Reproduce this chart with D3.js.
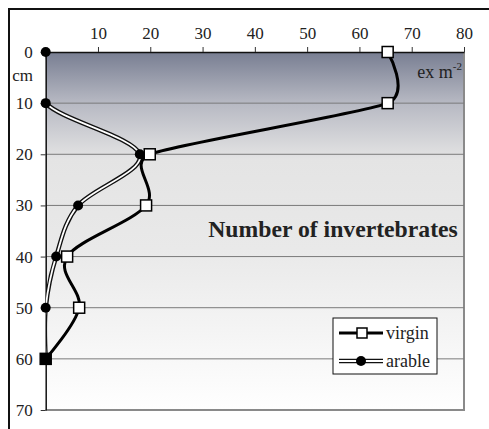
<!DOCTYPE html>
<html>
<head>
<meta charset="utf-8">
<script src="https://cdn.jsdelivr.net/npm/d3@7"></script>
<style>
  body { margin: 0; background: #fff; }
  text { font-family: "Liberation Serif", "Times New Roman", serif; fill: #222; }
</style>
</head>
<body>
<svg id="chart" width="489" height="429"></svg>
<script>
(function() {

  // data
  let depths = [0, 10, 20, 30, 40, 50, 60];
  let virgin = [65.4, 65.4, 19.9, 19.2, 4.1, 6.4, 0];
  let arable = [0, 0, 18, 6.2, 2.0, 0, 0];
  let xTicks = [10, 20, 30, 40, 50, 60, 70, 80];
  let yTicks = [0, 10, 20, 30, 40, 50, 60, 70];
  let gridDepths = [10, 20, 30, 40, 50, 60];

  let left = 45.7, right = 464, top = 52, bottom = 410;

  let svg = d3.select("#chart");

  let xScale = d3.scaleLinear().domain([0, 80]).range([left, right]);
  let yScale = d3.scaleLinear().domain([0, 70]).range([top, bottom]);

  // outer frame (runs off the right and bottom edges)
  svg.append("rect")
     .attr("x", 9).attr("y", 9)
     .attr("width", 500).attr("height", 440)
     .attr("fill", "none")
     .attr("stroke", "#111")
     .attr("stroke-width", 2);

  // plot background gradient
  let defs = svg.append("defs");
  let grad = defs.append("linearGradient")
     .attr("id", "bg")
     .attr("x1", 0).attr("y1", 0).attr("x2", 0).attr("y2", 1);
  grad.append("stop").attr("offset", "0%").attr("stop-color", "#787e92");
  grad.append("stop").attr("offset", "14%").attr("stop-color", "#b6b8c2");
  grad.append("stop").attr("offset", "30%").attr("stop-color", "#e4e4e4");
  grad.append("stop").attr("offset", "55%").attr("stop-color", "#e9e9e9");
  grad.append("stop").attr("offset", "100%").attr("stop-color", "#ffffff");

  defs.append("clipPath").attr("id", "plotclip")
      .append("rect")
      .attr("x", left).attr("y", top - 10)
      .attr("width", right - left + 10).attr("height", bottom - top + 20);

  svg.append("rect")
     .attr("x", left).attr("y", top)
     .attr("width", right - left).attr("height", bottom - top)
     .attr("fill", "url(#bg)");

  // plot border shadow right / bottom
  svg.append("line")
     .attr("x1", right).attr("x2", right)
     .attr("y1", top).attr("y2", bottom + 1)
     .attr("stroke", "#8a8a8a").attr("stroke-width", 2);
  svg.append("line")
     .attr("x1", left).attr("x2", right + 1)
     .attr("y1", bottom).attr("y2", bottom)
     .attr("stroke", "#8a8a8a").attr("stroke-width", 2);

  // gridlines
  svg.selectAll(".grid")
     .data(gridDepths)
     .enter()
     .append("line")
     .attr("class", "grid")
     .attr("x1", left).attr("x2", right)
     .attr("y1", d => yScale(d)).attr("y2", d => yScale(d))
     .attr("stroke", "#7a7a7a")
     .attr("stroke-width", 1);

  // axes
  let xAxis = d3.axisTop(xScale)
                .tickValues(xTicks)
                .tickSize(5)
                .tickSizeOuter(0);
  let gx = svg.append("g")
     .attr("transform", "translate(0," + top + ")")
     .call(xAxis);
  gx.select(".domain").attr("stroke", "#111").attr("stroke-width", 1.5);
  gx.selectAll(".tick line").attr("stroke", "#333");
  gx.selectAll(".tick text")
    .attr("font-size", "17px")
    .attr("fill", "#222")
    .attr("dy", "-0.3em");

  let yAxis = d3.axisLeft(yScale)
                .tickValues(yTicks)
                .tickSize(5)
                .tickSizeOuter(0);
  let gy = svg.append("g")
     .attr("transform", "translate(" + left + ",0)")
     .call(yAxis);
  gy.select(".domain").attr("stroke", "#111").attr("stroke-width", 1.5);
  gy.selectAll(".tick line").attr("stroke", "#333");
  gy.selectAll(".tick text")
    .attr("font-size", "17px")
    .attr("fill", "#222")
    .attr("x", -13);

  svg.append("text")
     .attr("x", 33).attr("y", 81)
     .attr("text-anchor", "end")
     .attr("font-size", "17px")
     .text("cm");

  // unit label
  let unit = svg.append("text")
     .attr("x", 462).attr("y", 78)
     .attr("text-anchor", "end")
     .attr("font-size", "18px");
  unit.append("tspan").text("ex m");
  unit.append("tspan").attr("dy", -8).attr("font-size", "11px").text("-2");

  // title
  svg.append("text")
     .attr("x", 333).attr("y", 237)
     .attr("text-anchor", "middle")
     .attr("font-size", "23.7px")
     .attr("font-weight", "bold")
     .text("Number of invertebrates");

  // spreadsheet-style smoothing: bezier handles of 1/6 the chord,
  // shortened when a neighbouring segment is short
  function dist(a, b) {
    return Math.hypot(b[0] - a[0], b[1] - a[1]);
  }
  function handle(a, b, c) {
    let d02 = dist(a, c);
    if (d02 === 0) return 0;
    return Math.min(1 / 6, Math.min(dist(a, b), dist(b, c)) / (2 * d02));
  }
  function smooth(data) {
    let pts = data.map(d => [xScale(d[0]), yScale(d[1])]);
    let n = pts.length;
    let p = d3.path();
    p.moveTo(pts[0][0], pts[0][1]);
    for (let i = 0; i < n - 1; i++) {
      let p0 = pts[Math.max(i - 1, 0)], p1 = pts[i],
          p2 = pts[i + 1], p3 = pts[Math.min(i + 2, n - 1)];
      let f = handle(p0, p1, p2), g = handle(p1, p2, p3);
      p.bezierCurveTo(p1[0] + f * (p2[0] - p0[0]), p1[1] + f * (p2[1] - p0[1]),
                      p2[0] - g * (p3[0] - p1[0]), p2[1] - g * (p3[1] - p1[1]),
                      p2[0], p2[1]);
    }
    return p.toString();
  }

  let arablePts = arable.map((v, i) => [v, depths[i]]);
  let virginPts = virgin.map((v, i) => [v, depths[i]]);

  let lines = svg.append("g").attr("clip-path", "url(#plotclip)");

  lines.append("path")
     .datum(arablePts)
     .attr("fill", "none")
     .attr("stroke", "#111")
     .attr("stroke-width", 4.5)
     .attr("d", smooth);
  lines.append("path")
     .datum(arablePts)
     .attr("fill", "none")
     .attr("stroke", "#fff")
     .attr("stroke-width", 1.8)
     .attr("d", smooth);

  lines.append("path")
     .datum(virginPts)
     .attr("fill", "none")
     .attr("stroke", "#000")
     .attr("stroke-width", 3)
     .attr("d", smooth);

  // markers
  svg.selectAll(".dot")
     .data(arablePts)
     .enter()
     .append("circle")
     .attr("class", "dot")
     .attr("cx", d => xScale(d[0]))
     .attr("cy", d => yScale(d[1]))
     .attr("r", 5)
     .attr("fill", "#000");

  svg.selectAll(".sq")
     .data(virginPts)
     .enter()
     .append("rect")
     .attr("class", "sq")
     .attr("x", d => xScale(d[0]) - 5.5)
     .attr("y", d => yScale(d[1]) - 5.5)
     .attr("width", 11).attr("height", 11)
     .attr("fill", (d, i) => d[0] === arable[i] ? "#000" : "#fff")
     .attr("stroke", "#000")
     .attr("stroke-width", 1.5);

  // legend
  let lg = svg.append("g").attr("transform", "translate(333,318)");
  lg.append("rect")
    .attr("width", 104).attr("height", 56)
    .attr("fill", "#fff")
    .attr("stroke", "#111")
    .attr("stroke-width", 1);

  lg.append("line")
    .attr("x1", 6).attr("x2", 50).attr("y1", 15).attr("y2", 15)
    .attr("stroke", "#000").attr("stroke-width", 3);
  lg.append("rect")
    .attr("x", 24).attr("y", 10).attr("width", 10).attr("height", 10)
    .attr("fill", "#fff").attr("stroke", "#000").attr("stroke-width", 1.5);
  lg.append("text")
    .attr("x", 53).attr("y", 21)
    .attr("font-size", "18px")
    .text("virgin");

  lg.append("line")
    .attr("x1", 6).attr("x2", 50).attr("y1", 43).attr("y2", 43)
    .attr("stroke", "#111").attr("stroke-width", 4.5);
  lg.append("line")
    .attr("x1", 6).attr("x2", 50).attr("y1", 43).attr("y2", 43)
    .attr("stroke", "#fff").attr("stroke-width", 1.8);
  lg.append("circle")
    .attr("cx", 28).attr("cy", 43).attr("r", 5)
    .attr("fill", "#000");
  lg.append("text")
    .attr("x", 53).attr("y", 49)
    .attr("font-size", "18px")
    .text("arable");

})();
</script>
</body>
</html>
